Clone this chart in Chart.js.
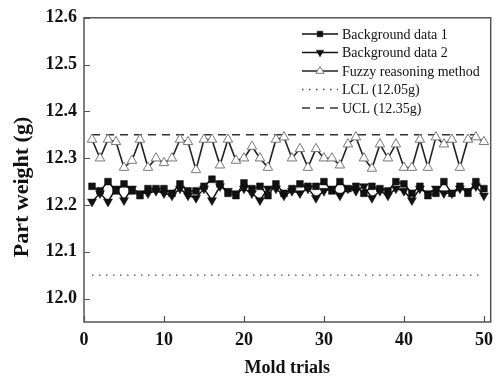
<!DOCTYPE html>
<html>
<head>
<meta charset="utf-8">
<script src="https://cdn.jsdelivr.net/npm/chart.js@4/dist/chart.umd.min.js"></script>
<style>
  html, body { margin: 0; padding: 0; background: #fff; }
  #wrap { width: 501px; height: 381px; }
</style>
</head>
<body>
<div id="wrap"><canvas id="chart" width="501" height="381"></canvas></div>
<script>
const trials = [1, 2, 3, 4, 5, 6, 7, 8, 9, 10, 11, 12, 13, 14, 15, 16, 17, 18, 19, 20,
  21, 22, 23, 24, 25, 26, 27, 28, 29, 30, 31, 32, 33, 34, 35, 36, 37, 38, 39, 40,
  41, 42, 43, 44, 45, 46, 47, 48, 49, 50];

const background1 = [12.24, 12.23, 12.25, 12.23, 12.245, 12.23, 12.22, 12.235, 12.235, 12.235,
  12.225, 12.245, 12.23, 12.23, 12.24, 12.255, 12.245, 12.225, 12.22, 12.247,
  12.235, 12.24, 12.22, 12.245, 12.225, 12.235, 12.245, 12.24, 12.24, 12.25,
  12.23, 12.25, 12.235, 12.24, 12.225, 12.24, 12.235, 12.23, 12.25, 12.245,
  12.225, 12.24, 12.22, 12.225, 12.25, 12.225, 12.24, 12.225, 12.25, 12.235];

const background2 = [12.207, 12.225, 12.207, 12.235, 12.21, 12.235, 12.225, 12.225, 12.23, 12.225,
  12.22, 12.235, 12.22, 12.215, 12.235, 12.21, 12.24, 12.23, 12.225, 12.235,
  12.225, 12.21, 12.235, 12.235, 12.22, 12.23, 12.225, 12.235, 12.215, 12.23,
  12.235, 12.22, 12.235, 12.23, 12.24, 12.215, 12.23, 12.22, 12.235, 12.23,
  12.21, 12.235, 12.225, 12.235, 12.225, 12.225, 12.235, 12.23, 12.24, 12.22];

const fuzzy = [12.34, 12.30, 12.34, 12.335, 12.28, 12.295, 12.34, 12.28, 12.30, 12.29,
  12.30, 12.34, 12.335, 12.275, 12.34, 12.34, 12.285, 12.34, 12.295, 12.30,
  12.325, 12.30, 12.28, 12.34, 12.345, 12.30, 12.32, 12.28, 12.32, 12.30,
  12.30, 12.285, 12.33, 12.345, 12.30, 12.278, 12.33, 12.30, 12.33, 12.28,
  12.28, 12.34, 12.28, 12.345, 12.33, 12.34, 12.28, 12.34, 12.345, 12.335];

const lcl = 12.05;
const ucl = 12.35;
const limitSpan = [1, 50];

const seriesNames = ['Background data 1', 'Background data 2', 'Fuzzy reasoning method', 'LCL (12.05g)', 'UCL (12.35g)'];

const xTicks = [0, 10, 20, 30, 40, 50];
const yTicks = [12.0, 12.1, 12.2, 12.3, 12.4, 12.5, 12.6];

const serif = "'Liberation Serif', 'Times New Roman', serif";

function pts(values) {
  return values.map((v, i) => ({ x: trials[i], y: v }));
}

// frame + inward tick marks
const framePlugin = {
  id: 'frame',
  afterDraw(chart) {
    const { ctx, chartArea: a, scales } = chart;
    ctx.save();
    ctx.strokeStyle = '#555';
    ctx.lineWidth = 1.5;
    ctx.strokeRect(a.left, a.top, a.right - a.left, a.bottom - a.top);
    ctx.lineWidth = 1.2;
    ctx.beginPath();
    xTicks.forEach(v => {
      const px = Math.round(scales.x.getPixelForValue(v)) + 0.5;
      ctx.moveTo(px, a.bottom);
      ctx.lineTo(px, a.bottom - 6);
    });
    yTicks.forEach(v => {
      const py = Math.round(scales.y.getPixelForValue(v)) + 0.5;
      ctx.moveTo(a.left, py);
      ctx.lineTo(a.left + 6, py);
    });
    ctx.stroke();

    // y axis title, sits a bit below the middle in the original
    ctx.translate(22, 187);
    ctx.rotate(-Math.PI / 2);
    ctx.font = 'bold 22px ' + serif;
    ctx.fillStyle = '#111';
    ctx.textAlign = 'center';
    ctx.textBaseline = 'middle';
    ctx.fillText('Part weight (g)', 0, 0);
    ctx.restore();
  }
};

// legend inside the plot, top right
const legendPlugin = {
  id: 'innerLegend',
  afterDraw(chart) {
    const { ctx } = chart;
    ctx.save();
    ctx.font = '14px ' + serif;
    ctx.textBaseline = 'middle';
    chart.data.datasets.forEach((ds, i) => {
      const y = 34 + i * 18.5;
      const x0 = 302, x1 = 338;
      ctx.strokeStyle = ds.borderColor;
      ctx.lineWidth = ds.borderWidth;
      ctx.setLineDash(ds.borderDash || []);
      ctx.beginPath();
      ctx.moveTo(x0, y);
      ctx.lineTo(x1, y);
      ctx.stroke();
      ctx.setLineDash([]);
      if (ds.pointRadius > 0) {
        ctx.fillStyle = ds.pointBackgroundColor;
        ctx.strokeStyle = ds.pointBorderColor;
        ctx.lineWidth = ds.pointBorderWidth;
        Chart.helpers.drawPoint(ctx, {
          pointStyle: ds.pointStyle,
          rotation: ds.pointRotation || 0,
          radius: ds.pointRadius - 0.8,
          borderWidth: ds.pointBorderWidth
        }, (x0 + x1) / 2, y);
      }
      ctx.fillStyle = '#111';
      ctx.fillText(ds.label, x1 + 4, y + 1);
    });
    ctx.restore();
  }
};

new Chart(document.getElementById('chart'), {
  type: 'line',
  data: {
    datasets: [
      {
        label: seriesNames[0],
        data: pts(background1),
        borderColor: '#111', borderWidth: 1.5,
        pointStyle: 'rect', pointRadius: 4.8, pointBorderWidth: 0.5,
        pointBackgroundColor: '#111', pointBorderColor: '#111'
      },
      {
        label: seriesNames[1],
        data: pts(background2),
        borderColor: '#111', borderWidth: 1.5,
        pointStyle: 'triangle', pointRotation: 180, pointRadius: 5.2, pointBorderWidth: 0.5,
        pointBackgroundColor: '#111', pointBorderColor: '#111'
      },
      {
        label: seriesNames[2],
        data: pts(fuzzy),
        borderColor: '#222', borderWidth: 1.6,
        pointStyle: 'triangle', pointRadius: 5.5, pointBorderWidth: 1,
        pointBackgroundColor: '#fff', pointBorderColor: '#777'
      },
      {
        label: seriesNames[3],
        data: limitSpan.map(x => ({ x, y: lcl })),
        borderColor: '#444', borderWidth: 1.3, borderDash: [1.5, 5.5],
        pointRadius: 0
      },
      {
        label: seriesNames[4],
        data: limitSpan.map(x => ({ x, y: ucl })),
        borderColor: '#333', borderWidth: 1.5, borderDash: [8, 6],
        pointRadius: 0
      }
    ]
  },
  options: {
    responsive: false,
    animation: false,
    events: [],
    layout: { padding: { top: 17, right: 2, left: 0, bottom: 0 } },
    plugins: { legend: { display: false }, tooltip: { enabled: false } },
    scales: {
      x: {
        type: 'linear',
        min: 0,
        max: 50.85,
        grid: { display: false, drawTicks: false },
        border: { display: false },
        afterBuildTicks: s => { s.ticks = xTicks.map(v => ({ value: v })); },
        afterFit: s => { s.height = 59; },
        ticks: {
          padding: 8,
          color: '#111',
          font: { family: serif, size: 18, weight: 'bold' }
        },
        title: {
          display: true,
          text: 'Mold trials',
          color: '#111',
          padding: { top: 0, bottom: 2 },
          font: { family: serif, size: 18, weight: 'bold' }
        }
      },
      y: {
        min: 11.95,
        max: 12.6,
        grid: { display: false, drawTicks: false },
        border: { display: false },
        afterBuildTicks: s => { s.ticks = yTicks.map(v => ({ value: v })); },
        afterFit: s => { s.width = 84; },
        ticks: {
          padding: 7,
          color: '#111',
          callback: v => v.toFixed(1),
          font: { family: serif, size: 18, weight: 'bold' }
        }
      }
    }
  },
  plugins: [framePlugin, legendPlugin]
});
</script>
</body>
</html>
